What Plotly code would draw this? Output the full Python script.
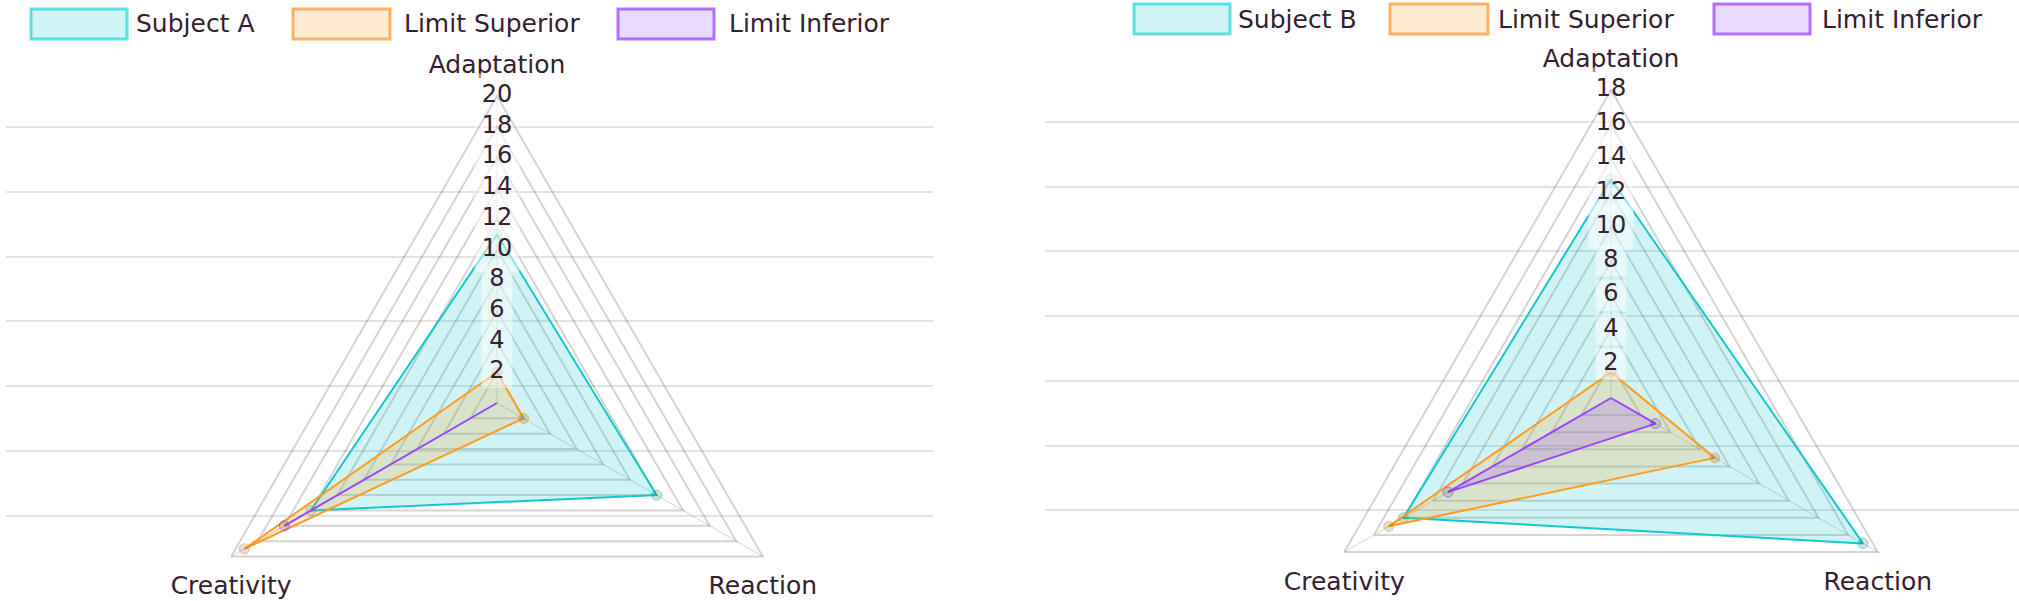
import plotly.graph_objects as go

# ---------------- data ----------------
categories = ["Adaptation", "Reaction", "Creativity"]

names_a = ["Subject A", "Limit Superior", "Limit Inferior"]
subject_a = [11, 12, 14]
limit_sup_a = [2, 2, 19]
limit_inf_a = [0, 0, 16]
max_a = 20
ticks_a = [2, 4, 6, 8, 10, 12, 14, 16, 18, 20]

names_b = ["Subject B", "Limit Superior", "Limit Inferior"]
subject_b = [12.8, 17, 14]
limit_sup_b = [1.5, 7, 15]
limit_inf_b = [0, 3, 11]
max_b = 18
ticks_b = [2, 4, 6, 8, 10, 12, 14, 16, 18]

# ---------------- style ----------------
W, H = 2019, 720
FONT = "DejaVu Sans"
TXT = "#35202e"
line_cols = ["rgb(19,200,204)", "rgb(255,155,30)", "rgb(154,69,255)"]
fill_cols = ["rgba(19,200,204,0.2)", "rgba(255,155,30,0.2)", "rgba(154,69,255,0.2)"]
box_line = ["rgba(19,210,214,0.65)", "rgba(255,150,40,0.7)", "rgba(154,69,255,0.75)"]
GRID = "rgba(0,0,0,0.17)"

fig = go.Figure()


def add_radar(subplot, series, names, vmax, ticks):
    # category labels
    fig.add_trace(go.Scatterpolar(
        subplot=subplot, r=[vmax] * len(categories), theta=categories,
        mode="markers+text", text=categories,
        marker=dict(size=[26, 29, 29], color="rgba(0,0,0,0)"),
        textposition=["top center", "bottom center", "bottom center"],
        textfont=dict(family=FONT, size=25, color=TXT), cliponaxis=False,
        hoverinfo="skip", showlegend=False))
    for i, (vals, name) in enumerate(zip(series, names)):
        rr = list(vals) + [vals[0]]
        tt = categories + [categories[0]]
        fig.add_trace(go.Scatterpolar(
            subplot=subplot, r=rr, theta=tt, name=name, fill="toself",
            fillcolor=fill_cols[i], mode="lines+markers",
            line=dict(color=line_cols[i], width=2),
            marker=dict(size=[10] * len(vals) + [0], color="rgba(0,0,0,0.18)"),
            showlegend=False, cliponaxis=False))
    # tick label backdrops (drawn over the areas, semi-transparent)
    fig.add_trace(go.Scatterpolar(
        subplot=subplot, r=ticks, theta=[categories[0]] * len(ticks),
        mode="markers", opacity=0.72, cliponaxis=False,
        marker=dict(symbol="square", color="white",
                    size=[16 + 14 * len(str(t)) for t in ticks]),
        hoverinfo="skip", showlegend=False))
    # tick labels
    fig.add_trace(go.Scatterpolar(
        subplot=subplot, r=ticks, theta=[categories[0]] * len(ticks),
        mode="text", text=[str(t) for t in ticks], textposition="middle center",
        textfont=dict(family=FONT, size=24, color=TXT), cliponaxis=False,
        hoverinfo="skip", showlegend=False))


add_radar("polar", [subject_a, limit_sup_a, limit_inf_a], names_a, max_a, ticks_a)
add_radar("polar2", [subject_b, limit_sup_b, limit_inf_b], names_b, max_b, ticks_b)

# empty traces so that the background horizontal grids are drawn
fig.add_trace(go.Scatter(x=[None], y=[None], xaxis="x", yaxis="y", showlegend=False, hoverinfo="skip"))
fig.add_trace(go.Scatter(x=[None], y=[None], xaxis="x2", yaxis="y2", showlegend=False, hoverinfo="skip"))


def polar_layout(cx, cy, R, vmax, ticks):
    return dict(
        domain=dict(x=[(cx - R) / W, (cx + R) / W], y=[(H - cy - R) / H, (H - cy + R) / H]),
        bgcolor="rgba(0,0,0,0)",
        gridshape="linear",
        radialaxis=dict(range=[0, vmax], tickvals=ticks, showticklabels=False, ticks="",
                        showline=False, gridcolor=GRID, gridwidth=2, angle=90),
        angularaxis=dict(rotation=90, direction="clockwise", showticklabels=False, ticks="",
                         showgrid=True, gridcolor=GRID, gridwidth=1,
                         showline=True, linecolor=GRID, linewidth=2),
    )


def ygrid(top_px, step_px, anchor):
    p0 = top_px - step_px
    p8 = top_px + 7 * step_px
    return dict(domain=[(H - p8) / H, (H - p0) / H], range=[8, 0],
                tickvals=[1, 2, 3, 4, 5, 6, 7], showticklabels=False, ticks="",
                showgrid=True, gridcolor="#e3e3e3", gridwidth=2, zeroline=False,
                showline=False, anchor=anchor, fixedrange=True)


def xdom(domain_x, anchor):
    return dict(domain=domain_x, range=[0, 1], visible=False, showgrid=False,
                zeroline=False, anchor=anchor, fixedrange=True)


# legends built as boxes + text
shapes, annots = [], []


def legend(boxes, texts_x, y0, y1, names):
    for i, ((bx0, bx1), tx, name) in enumerate(zip(boxes, texts_x, names)):
        shapes.append(dict(type="rect", xref="paper", yref="paper",
                           x0=bx0 / W, x1=bx1 / W, y0=(H - y1) / H, y1=(H - y0) / H,
                           fillcolor=fill_cols[i], line=dict(color=box_line[i], width=3)))
        annots.append(dict(xref="paper", yref="paper", x=tx / W, y=(H - (y0 + y1) / 2) / H,
                           xanchor="left", yanchor="middle", showarrow=False, text=name,
                           font=dict(family=FONT, size=25, color=TXT)))


legend([(31, 127), (293, 390), (618, 714)], [134, 402, 727], 9, 39, names_a)
legend([(1134, 1230), (1390, 1488), (1714, 1810)], [1236, 1496, 1820], 4, 34, names_b)

fig.update_layout(
    width=W, height=H, margin=dict(l=0, r=0, t=0, b=0),
    paper_bgcolor="white", plot_bgcolor="rgba(0,0,0,0)",
    showlegend=False,
    polar=polar_layout(497, 403, 307, max_a, ticks_a),
    polar2=polar_layout(1611, 398, 308, max_b, ticks_b),
    xaxis=xdom([6 / W, 933 / W], "y"),
    yaxis=ygrid(127, 64.8, "x"),
    xaxis2=xdom([1045 / W, 1.0], "y2"),
    yaxis2=ygrid(122, 64.7, "x2"),
    shapes=shapes, annotations=annots,
)

fig.write_html("out.html", config={"displayModeBar": False},
               post_script="document.body.style.margin='0';document.body.style.overflow='hidden';")
